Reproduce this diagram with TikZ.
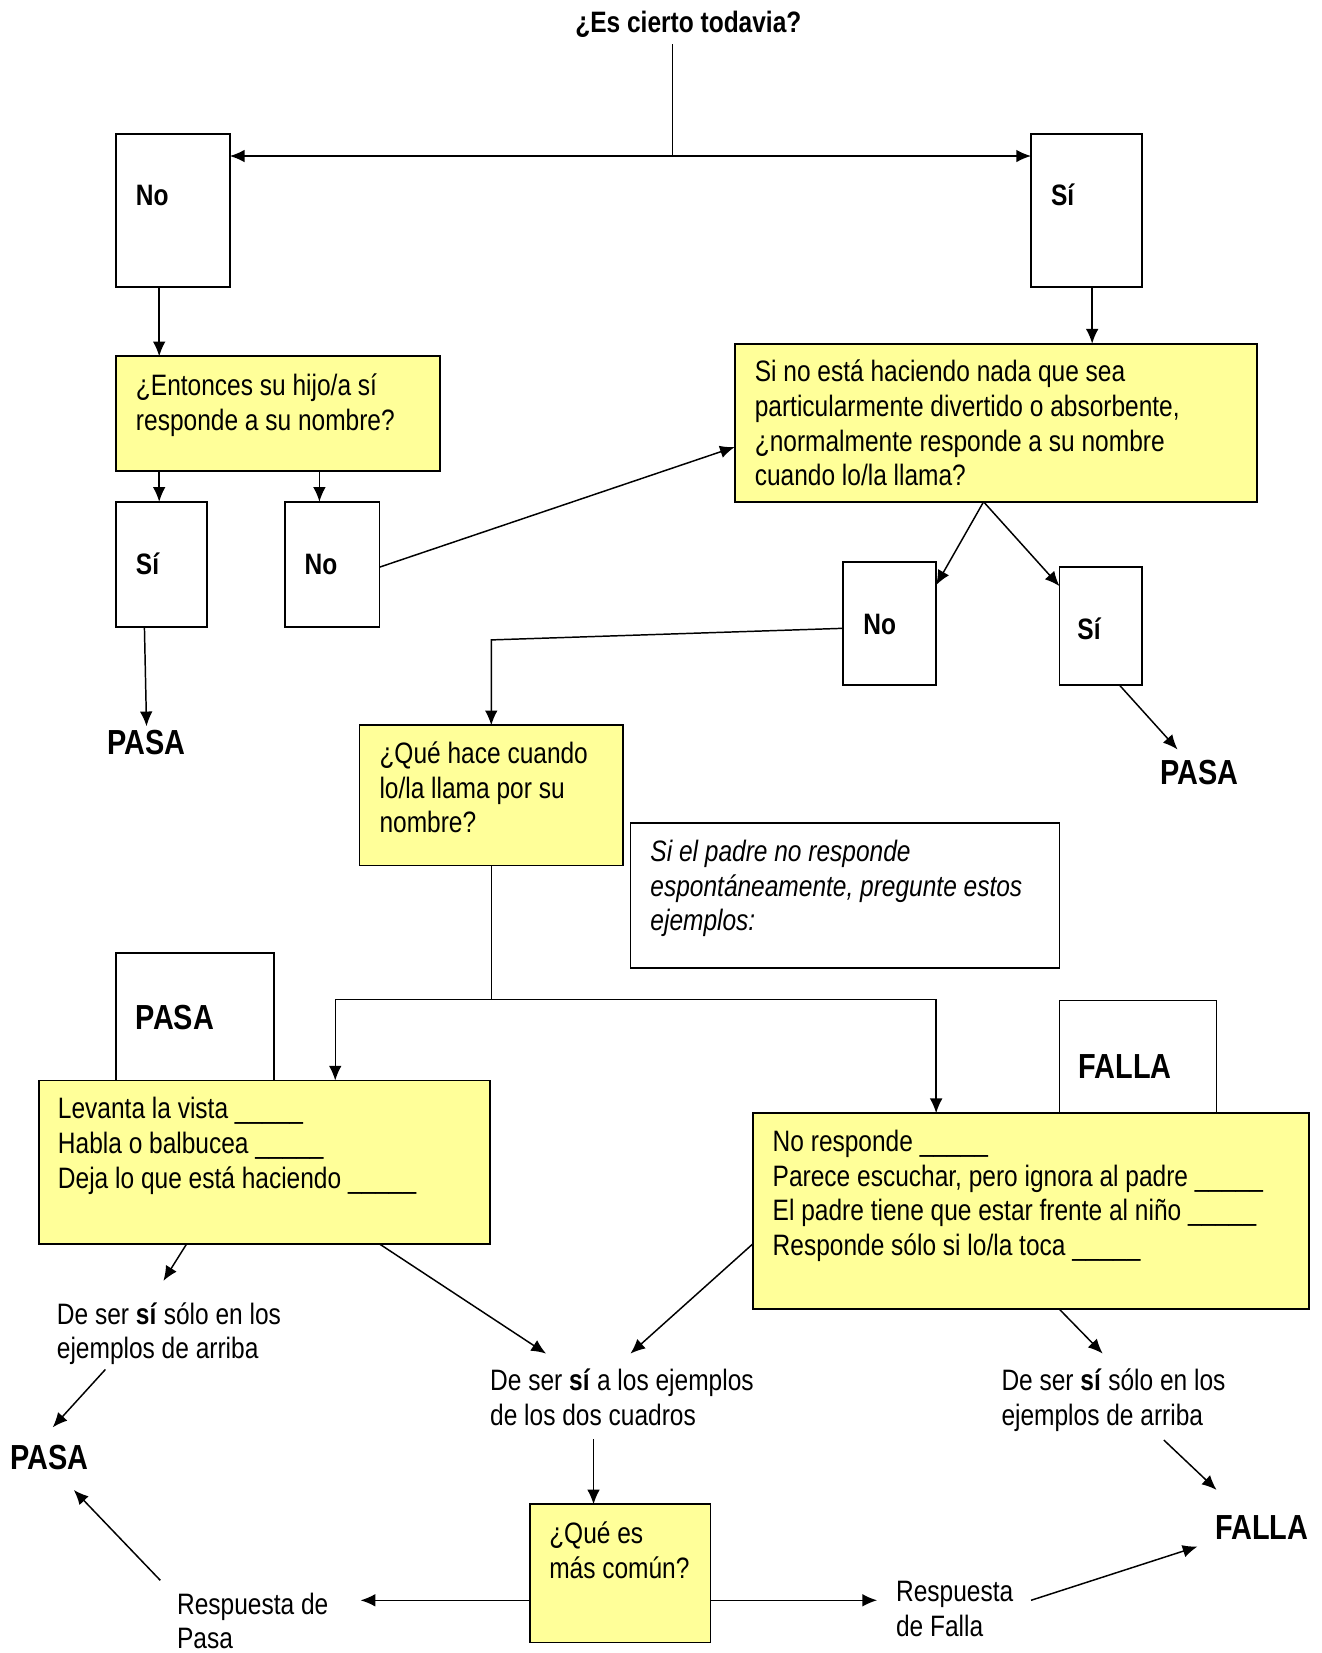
\documentclass[tikz,border=0pt]{standalone}
\usepackage{fontspec}
\setmainfont{Liberation Sans}[FakeStretch=0.83]
\usetikzlibrary{arrows.meta}
\definecolor{yel}{RGB}{255,255,153}
\newcommand\myfs{\fontsize{28}{33}\selectfont}
\newcommand\mybig{\fontsize{33}{38}\selectfont}
\tikzset{
 wbox/.style={draw, line width=1.7pt, fill=white, inner sep=0pt, outer sep=0pt},
 ybox/.style={wbox, fill=yel},
 txt/.style={inner sep=0pt, outer sep=0pt, align=left, anchor=base west, font=\myfs},
 lbl/.style={txt, font=\myfs\bfseries},
 big/.style={inner sep=0pt, outer sep=0pt, anchor=base, font=\mybig\bfseries},
 arr/.style={-{Latex[length=14pt,width=12pt]}, line width=1.4pt},
 ln/.style={line width=1.4pt}
}
\begin{document}
\begin{tikzpicture}[x=1pt,y=-1pt]
\useasboundingbox (0,0) rectangle (1254,1568);
% title
\node[lbl, anchor=base] (title) at (653,31) {¿Es cierto todavia?};
\coordinate (split) at (638,148);
% first level boxes
\node[wbox, minimum width=108pt, minimum height=145pt] (no1) at (164,199.5) {};
\node[lbl] (no1t) at (129,195) {No};
\node[wbox, minimum width=105pt, minimum height=145pt] (si1) at (1030.5,199.5) {};
\node[lbl] (si1t) at (997,195) {Sí};
\draw[ln] (split |- 0,42) -- (split);
\draw[arr] (split) -- (no1.east |- split);
\draw[arr] (split) -- (si1.west |- split);
% questions
\node[ybox, minimum width=307pt, minimum height=109pt] (q1) at (263.5,392.5) {};
\node[txt] (q1t) at (129,408) {¿Entonces su hijo/a sí\\responde a su nombre?};
\node[ybox, minimum width=495pt, minimum height=150pt] (q2) at (944.5,401) {};
\node[txt] (q2t) at (716,461) {Si no está haciendo nada que sea\\particularmente divertido o absorbente,\\¿normalmente responde a su nombre\\cuando lo/la llama?};
\draw[arr] ([xshift=-13pt]no1.south) -- ([xshift=-13pt]no1.south |- q1.north);
\draw[arr] ([xshift=5.5pt]si1.south) -- ([xshift=5.5pt]si1.south |- q2.north);
% second level
\node[wbox, minimum width=86pt, minimum height=119pt] (si2) at (153,535.5) {};
\node[lbl] (si2t) at (129,545) {Sí};
\node[wbox, minimum width=90pt, minimum height=119pt] (no2) at (315,535.5) {};
\node[lbl] (no2t) at (289,545) {No};
\draw[arr] ([xshift=-112.5pt]q1.south) -- ([xshift=-112.5pt]q1.south |- si2.north);
\draw[arr] ([xshift=39.5pt]q1.south) -- ([xshift=39.5pt]q1.south |- no2.north);
\draw[arr] ([yshift=-2.5pt]no2.east) -- ([yshift=-23pt]q2.west);
\node[big] (pasa1) at (139,716) {PASA};
\draw[arr] ([xshift=-16pt]si2.south) -- ([yshift=4pt]pasa1.north);
% right branch
\node[wbox, minimum width=88pt, minimum height=117pt] (no3) at (844,591.5) {};
\node[lbl] (no3t) at (819,602) {No};
\node[wbox, minimum width=78pt, minimum height=112pt] (si3) at (1044,594) {};
\node[lbl] (si3t) at (1022,607) {Sí};
\draw[arr] ([xshift=-11.5pt]q2.south) -- ([yshift=-22pt]no3.north east);
\draw[arr] ([xshift=-11.5pt]q2.south) -- ([yshift=-18pt]si3.north west);
\node[big] (pasa2) at (1138,744) {PASA};
\draw[arr] ([xshift=18pt]si3.south) -- ([xshift=-21pt,yshift=10pt]pasa2.north);
% third question
\node[ybox, minimum width=250pt, minimum height=133pt] (q3) at (466,754.5) {};
\node[txt] (q3t) at (360,790) {¿Qué hace cuando\\lo/la llama por su\\nombre?};
\coordinate (bend) at (466,607);
\draw[arr] ([yshift=-4.5pt]no3.west) -- (bend) -- (q3.north);
\node[wbox, minimum width=407pt, minimum height=137pt] (note) at (801.5,849.5) {};
\node[txt, font=\myfs\itshape] (notet) at (617,883) {Si el padre no responde\\espontáneamente, pregunte estos\\ejemplos:};
% PASA / FALLA boxes behind
\node[wbox, minimum width=150pt, minimum height=121pt] (pbox) at (185,964.5) {};
\node[big, anchor=base west] (pboxt) at (129,977) {PASA};
\node[wbox, minimum width=149pt, minimum height=107pt] (fbox) at (1079.5,1002.5) {};
\node[big, anchor=base west] (fboxt) at (1023,1023) {FALLA};
% example boxes
\node[ybox, minimum width=428pt, minimum height=155pt] (A) at (251,1102.5) {};
\node[txt] (At) at (55,1127) {Levanta la vista \_\_\_\_\_\\Habla o balbucea \_\_\_\_\_\\Deja lo que está haciendo \_\_\_\_\_};
\node[ybox, minimum width=528pt, minimum height=186pt] (B) at (978,1149) {};
\node[txt] (Bt) at (733,1191) {No responde \_\_\_\_\_\\Parece escuchar, pero ignora al padre \_\_\_\_\_\\El padre tiene que estar frente al niño \_\_\_\_\_\\Responde sólo si lo/la toca \_\_\_\_\_};
\coordinate (j) at (466,948);
\draw[ln] (q3.south) -- (j);
\draw[arr] (j) -| ([xshift=67pt]A.north);
\draw[arr] (j) -| ([xshift=-90pt]B.north);
% result texts
\node[txt] (lt) at (54,1289) {De ser \textbf{sí} sólo en los\\ejemplos de arriba};
\node[txt] (mid) at (465,1352) {De ser \textbf{sí} a los ejemplos\\de los dos cuadros};
\node[txt] (rt) at (950,1352) {De ser \textbf{sí} sólo en los\\ejemplos de arriba};
\draw[arr] ([xshift=-74pt]A.south) -- (155,1215);
\draw[arr] ([xshift=109pt]A.south) -- (518,1284);
\draw[arr] ([yshift=-31pt]B.west) -- (598,1284);
\draw[arr] ([xshift=27pt]B.south) -- (1046,1284);
\node[big] (pasa3) at (47,1394) {PASA};
\node[big] (falla2) at (1197,1460) {FALLA};
\draw[arr] (100,1299) -- ([xshift=3pt,yshift=17pt]pasa3.north);
\draw[arr] (1104,1366) -- ([xshift=-43pt,yshift=24pt]falla2.north);
% final question
\node[ybox, minimum width=171pt, minimum height=131pt] (q4) at (588.5,1492.5) {};
\node[txt] (q4t) at (521,1497) {¿Qué es\\más común?};
\coordinate (m4) at ([xshift=-25.5pt]q4.north);
\draw[arr] (m4 |- 0,1365) -- (m4);
\node[txt] (rp) at (168,1564) {Respuesta de\\Pasa};
\node[txt] (rf) at (850,1552) {Respuesta\\de Falla};
\draw[arr] ([yshift=-25.5pt]q4.west) -- ([xshift=-161pt,yshift=-25.5pt]q4.west);
\draw[arr] ([yshift=-25.5pt]q4.east) -- ([xshift=158pt,yshift=-25.5pt]q4.east);
\draw[arr] (152,1499) -- ([xshift=23pt,yshift=-19pt]pasa3.south);
\draw[arr] (978,1518) -- ([xshift=-17pt,yshift=-7pt]falla2.south west);
\end{tikzpicture}
\end{document}
